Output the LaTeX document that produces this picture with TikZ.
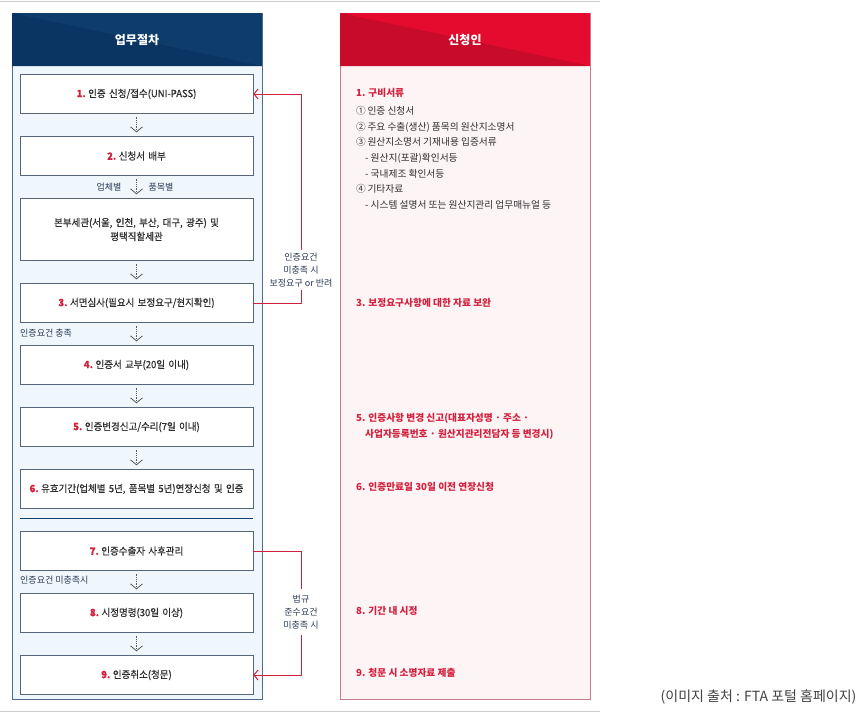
\documentclass[tikz,border=0pt]{standalone}
\usepackage{fontspec}
\setmainfont{Noto Sans CJK KR}
\newfontfamily\boxfont[FakeStretch=0.95, FakeBold=0.5]{Noto Sans CJK KR}
\usepackage{tikz}
\usetikzlibrary{positioning, arrows.meta}

\definecolor{navy}{HTML}{0E3D6C}
\definecolor{navydark}{HTML}{0A3462}
\definecolor{navyline}{HTML}{4F6A88}
\definecolor{panelblue}{HTML}{F0F7FC}
\definecolor{crimson}{HTML}{E40B2E}
\definecolor{crimsondark}{HTML}{C80A2B}
\definecolor{pinkline}{HTML}{C97B8E}
\definecolor{panelpink}{HTML}{FDF4F6}
\definecolor{numred}{HTML}{D3203C}
\definecolor{txt}{HTML}{2E2E2E}
\definecolor{boxline}{HTML}{56657A}
\definecolor{labtxt}{HTML}{2A3B55}

\tikzset{
  stepbox/.style={draw=boxline, line width=0.8pt, fill=white, minimum width=233pt,
    minimum height=38.5pt, text width=231pt, align=center, inner sep=0pt,
    font=\boxfont\fontsize{10}{14}\selectfont, text=txt},
  flow/.style={densely dotted, draw=gray!70!black, line width=0.8pt,
    -{Straight Barb[length=5pt,width=12pt,line width=0.8pt]}},
  back/.style={draw=numred, line width=1pt},
  side/.style={font=\fontsize{9}{13}\selectfont, text=labtxt, align=center},
  note/.style={anchor=west, font=\fontsize{9.7}{15.7}\selectfont, text=txt, align=left, inner sep=0pt},
  rednote/.style={note, text=numred, font=\fontsize{9.7}{15.7}\selectfont\bfseries},
}
\newcommand{\num}[1]{\textcolor{numred}{\bfseries #1}\hspace{2.5pt}}

\begin{document}
\begin{tikzpicture}[x=1pt, y=-1pt, node distance=22.7pt]
\useasboundingbox (0,0) rectangle (864,712);
\fill[white] (0,0) rectangle (864,712);
% frame lines
\draw[gray!40, line width=1pt] (0,1) -- (600,1);
\draw[gray!40, line width=1pt] (0,711) -- (600,711);

% left panel
\filldraw[fill=panelblue, draw=navyline, line width=0.8pt] (12,13) rectangle (262,699);
\fill[navy] (12,13) rectangle (262,66);
\fill[navydark] (12,13) -- (262,66) -- (12,66) -- cycle;
\node[text=white, font=\fontsize{12}{14}\selectfont\bfseries] (head1) at (137,40) {업무절차};

% right panel
\filldraw[fill=panelpink, draw=pinkline, line width=0.8pt] (340,13) rectangle (590,699);
\fill[crimson] (340,13) rectangle (590,66);
\fill[crimsondark] (340,13) -- (590,66) -- (340,66) -- cycle;
\node[text=white, font=\fontsize{12}{14}\selectfont\bfseries] (head2) at (465,40) {신청인};

% procedure boxes
\node[stepbox] (b1) at (136.5,94) {\num{1.}인증 신청/접수(UNI-PASS)};
\node[stepbox, below=of b1] (b2) {\num{2.}신청서 배부};
\node[stepbox, below=of b2, minimum height=61.5pt] (b22) {본부세관(서울, 인천, 부산, 대구, 광주) 및\\평택직할세관};
\node[stepbox, below=of b22] (b3) {\num{3.}서면심사(필요시 보정요구/현지확인)};
\node[stepbox, below=of b3] (b4) {\num{4.}인증서 교부(20일 이내)};
\node[stepbox, below=of b4] (b5) {\num{5.}인증변경신고/수리(7일 이내)};
\node[stepbox, below=of b5] (b6) {\num{6.}유효기간(업체별 5년, 품목별 5년)연장신청 및 인증};
\node[stepbox, below=of b6] (b7) {\num{7.}인증수출자 사후관리};
\node[stepbox, below=of b7] (b8) {\num{8.}시정명령(30일 이상)};
\node[stepbox, below=of b8] (b9) {\num{9.}인증취소(청문)};

\draw[navy, line width=1.6pt] (20,518.5) -- (253,518.5);

\foreach \a/\b in {b1/b2, b2/b22, b22/b3, b3/b4, b4/b5, b5/b6, b7/b8, b8/b9}
  \draw[flow, shorten <=3pt, shorten >=4pt] (\a) -- (\b);

% side labels
\node[side, anchor=east] (byfirm) at (125,187) {업체별};
\node[side, anchor=west] (byitem) at (145,187) {품목별};
\node[side, anchor=west, inner sep=0pt] (ok) at (20,333) {인증요건 충족};
\node[side, anchor=west, inner sep=0pt] (nok) at (20,580) {인증요건 미충족시};

% feedback loops
\node[side, inner sep=3pt] (lab1) at (301,270) {인증요건\\미충족 시\\보정요구 or 반려};
\draw[back] (b3.east) -| (lab1.south);
\draw[back, -{Straight Barb[length=4pt,width=10pt,line width=1pt]}] (lab1.north) |- (b1.east);
\node[side, inner sep=6pt] (lab2) at (301,612) {법규\\준수요건\\미충족 시};
\draw[back] (b7.east) -| (lab2.north);
\draw[back, -{Straight Barb[length=4pt,width=10pt,line width=1pt]}] (lab2.south) |- (b9.east);

% applicant notes
\node[rednote] (n1) at (356,93) {1. 구비서류};
\node[note, anchor=north west] (n1list) at (356,106) {①\,인증 신청서\\
②\,주요 수출(생산) 품목의 원산지소명서\\
③\,원산지소명서 기재내용 입증서류\\
\hspace{9pt}- 원산지(포괄)확인서등\\
\hspace{9pt}- 국내제조 확인서등\\
④\,기타자료\\
\hspace{9pt}- 시스템 설명서 또는 원산지관리 업무매뉴얼 등};
\node[rednote] (n3) at (356,303) {3. 보정요구사항에 대한 자료 보완};
\node[rednote, font=\fontsize{9.7}{16}\selectfont\bfseries] (n5) at (356,426) {5. 인증사항 변경 신고(대표자성명 · 주소 ·\\
\hspace{9pt}사업자등록번호 · 원산지관리전담자 등 변경시)};
\node[rednote] (n6) at (356,487) {6. 인증만료일 30일 이전 연장신청};
\node[rednote] (n8) at (356,611) {8. 기간 내 시정};
\node[rednote] (n9) at (356,673) {9. 청문 시 소명자료 제출};

% source
\node[anchor=east, font=\fontsize{14}{16}\selectfont, text=txt!90] (src) at (860,697) {(이미지 출처 : FTA 포털 홈페이지)};
\end{tikzpicture}
\end{document}
